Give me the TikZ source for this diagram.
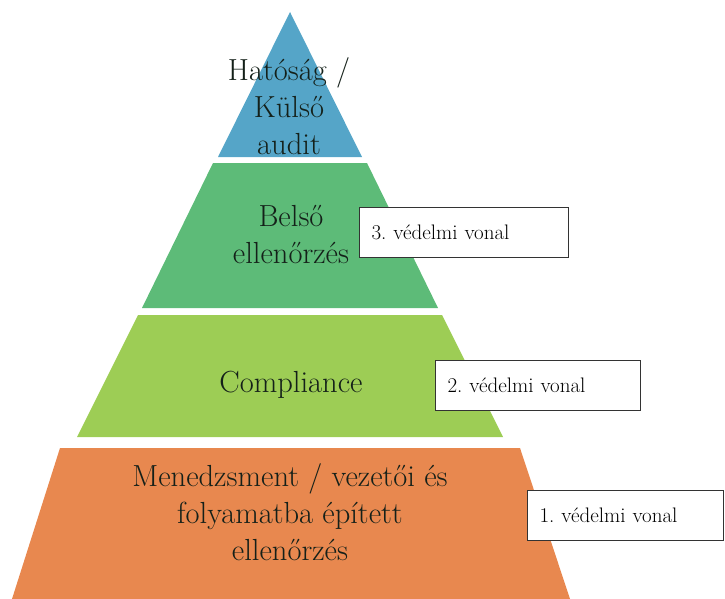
\documentclass[tikz,border=0pt]{standalone}
\usetikzlibrary{positioning}

\definecolor{layerblue}{HTML}{55A5C8}
\definecolor{layerdgreen}{HTML}{5DBB78}
\definecolor{layerlgreen}{HTML}{9DCD55}
\definecolor{layerorange}{HTML}{E8884F}
\definecolor{layertext}{HTML}{142019}

\tikzset{
	layertxt/.style={align=center, text=layertext, font=\fontsize{30.5}{37}\selectfont},
	linebox/.style={draw=black!80, line width=0.8pt, fill=white, minimum width=205pt,
		minimum height=50pt, text width=180pt, align=left, inner xsep=12pt,
		font=\frenchspacing\fontsize{21}{24}\selectfont},
}

\begin{document}
\begin{tikzpicture}[x=1pt, y=-1pt]
		% 画布大小
		\useasboundingbox (0, 0) rectangle (725, 599);

		% 金字塔的四层
		\fill[layerblue] (290, 12) -- (362, 157) -- (218, 157) -- cycle;
		\fill[layerdgreen] (213, 163) -- (367, 163) -- (438, 308) -- (142, 308) -- cycle;
		\fill[layerlgreen] (138, 315) -- (442, 315) -- (503, 437) -- (77, 437) -- cycle;
		\fill[layerorange] (60, 448) -- (520, 448) -- (570, 599) -- (12, 599) -- cycle;

		% 每一层的文字
		\node[layertxt] (hatosag) at (289, 106) {Hatóság /\\Külső\\audit};
		\node[layertxt] (belso) at (291, 235) {Belső\\ellenőrzés};
		\node[layertxt] (compliance) at (291, 385) {Compliance};
		\node[layertxt] (menedzsment) at (290, 512) {Menedzsment / vezetői és\\folyamatba épített\\ellenőrzés};

		% 右边的三道防线
		\node[linebox, minimum width=209pt, text width=184pt] (vonal3) at (463.5, 232.5) {3. védelmi vonal};
		\node[linebox] (vonal2) at (537.5, 385) {2. védelmi vonal};
		\node[linebox, minimum width=196pt, text width=171pt] (vonal1) at (625, 515) {1. védelmi vonal};
	\end{tikzpicture}
\end{document}
